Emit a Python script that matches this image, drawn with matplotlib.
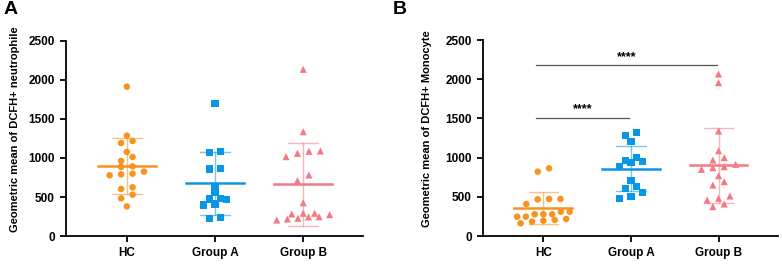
import numpy as np
import matplotlib
matplotlib.use("Agg")
import matplotlib.pyplot as plt

plt.rcParams['font.family'] = ['Liberation Sans', 'DejaVu Sans']
plt.rcParams['font.weight'] = 'bold'

groups = ["HC", "Group A", "Group B"]
colors = ["#F7931E", "#0A96E6", "#F47983"]
markers = ["o", "s", "^"]

# Panel A: DCFH+ neutrophile
neu_hc = [1914, 1286, 1192, 1218, 1077, 1013, 962, 885, 893, 791, 778, 799, 825,
          624, 603, 530, 483, 380]
neu_a = [1696, 1068, 1086, 859, 863, 632, 555, 474, 483, 410, 470, 397, 227, 240]
neu_b = [2137, 1337, 1060, 1017, 1086, 1090, 782, 709, 427, 227, 282, 244, 273,
         291, 205, 247, 291, 218]

# Panel B: DCFH+ monocyte
mono_hc = [863, 821, 468, 472, 472, 408, 310, 310, 277, 277, 277, 246, 246,
           217, 195, 204, 183, 162]
mono_a = [1280, 1322, 1203, 940, 948, 884, 961, 999, 706, 608, 629, 481, 502, 553]
mono_b = [2066, 1956, 1339, 1088, 969, 999, 850, 872, 884, 914, 770, 650, 693,
          459, 510, 481, 374, 408]

# significance brackets for panel B: (from, to, height, label)
brackets_b = [(0, 1, 1510, "****"), (0, 2, 2175, "****")]


def swarm_offsets(vals, binsize=75, spacing=0.13, maxwidth=0.6):
    """Prism-like scatter: group close values in rows, spread symmetrically"""
    vals = np.asarray(vals, dtype=float)
    order = np.argsort(vals)
    offs = np.zeros(len(vals))
    rows = []
    cur = [order[0]]
    for idx in order[1:]:
        if vals[idx] - vals[cur[0]] > binsize:
            rows.append(cur)
            cur = [idx]
        else:
            cur.append(idx)
    rows.append(cur)
    for row in rows:
        n = len(row)
        sp = spacing if n <= 1 else min(spacing, maxwidth / (n - 1))
        for i, idx in enumerate(row):
            offs[idx] = (i - (n - 1) / 2) * sp
    return offs


def draw_panel(ax, data, ylabel, label_x):
    for i, (vals, c, m) in enumerate(zip(data, colors, markers)):
        vals = np.asarray(vals, dtype=float)
        x = i + swarm_offsets(vals)
        ms = 22 if m == "o" else 26
        ax.scatter(x, vals, s=ms, marker=m, color=c, edgecolors='none', zorder=3)
        mean = vals.mean()
        sd = vals.std(ddof=1)
        lo, hi = max(mean - sd, 0), mean + sd
        ax.plot([i, i], [lo, hi], color=c, lw=1, alpha=0.55, zorder=2)
        for y in (lo, hi):
            ax.plot([i - 0.17, i + 0.17], [y, y], color=c, lw=1, alpha=0.55, zorder=2)
        ax.plot([i - 0.33, i + 0.33], [mean, mean], color=c, lw=1.8, zorder=4)

    ax.set_xlim(-0.69, 2.68)
    ax.set_ylim(0, 2500)
    ax.set_yticks(np.arange(0, 2501, 500))
    ax.set_xticks(range(len(groups)))
    ax.set_xticklabels(groups, fontsize=8.5, fontweight='bold')
    ax.set_ylabel(ylabel, fontsize=8, fontweight='bold')
    ax.yaxis.set_label_coords(label_x, 0.55)
    for sp in ("top", "right"):
        ax.spines[sp].set_visible(False)
    for sp in ("left", "bottom"):
        ax.spines[sp].set_linewidth(1.3)
    ax.tick_params(axis='both', width=1.3, length=4.5, labelsize=8.5)
    for lab in ax.get_yticklabels():
        lab.set_fontweight('bold')


fig = plt.figure(figsize=(7.82, 2.65), dpi=100)
ax1 = fig.add_axes([0.0844, 0.1094, 0.3800, 0.7360])
ax2 = fig.add_axes([0.6176, 0.1094, 0.3774, 0.7396])

draw_panel(ax1, [neu_hc, neu_a, neu_b], "Geometric mean of DCFH+ neutrophile", -0.155)
draw_panel(ax2, [mono_hc, mono_a, mono_b], "Geometric mean of DCFH+ Monocyte", -0.173)

for x0, x1, y, label in brackets_b:
    ax2.plot([x0 - 0.08, x1 - 0.02], [y, y], color='#555555', lw=0.9)
    ax2.text((x0 + x1) / 2 - 0.05, y + 30, label, ha='center', va='bottom',
             fontsize=9, fontweight='bold')

fig.text(0.004, 0.995, "A", fontsize=14, fontweight='bold', va='top', ha='left')
fig.text(0.502, 0.995, "B", fontsize=14, fontweight='bold', va='top', ha='left')

fig.savefig("out.png", dpi=100)
